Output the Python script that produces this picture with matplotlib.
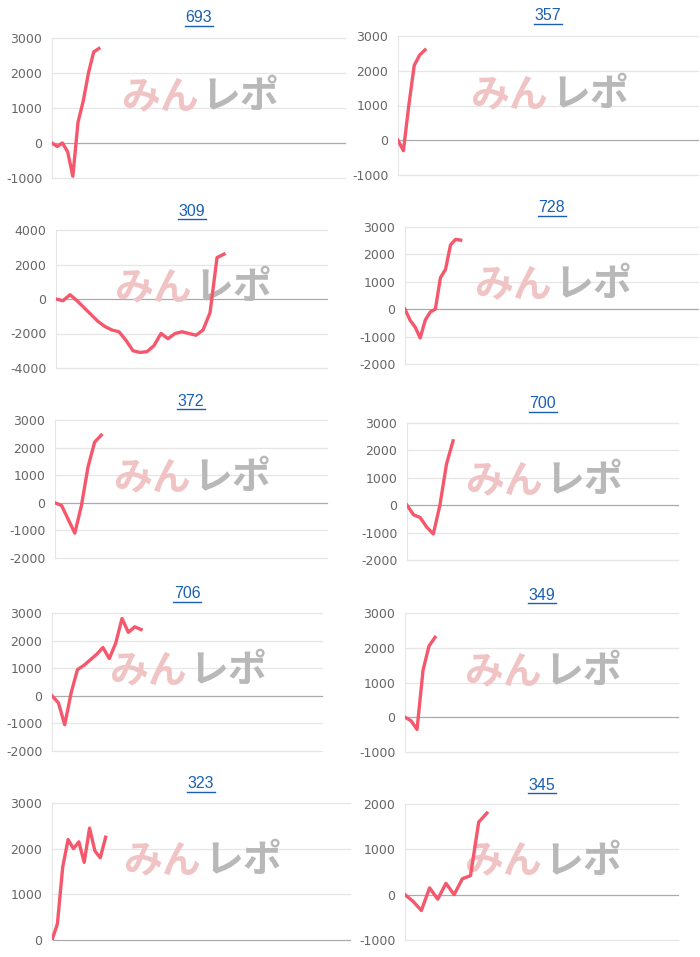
import matplotlib
matplotlib.use("Agg")
import matplotlib.pyplot as plt

plt.rcParams["axes.unicode_minus"] = False

W, H = 700, 957

titles = ["693", "357", "309", "728", "372", "700", "706", "349", "323", "345"]

s693 = [0, -100, 0, -250, -950, 600, 1200, 2000, 2600, 2700]
s357 = [0, -300, 1000, 2150, 2450, 2600]
s309 = [0, -100, 250, -100, -500, -900, -1300, -1600, -1800, -1900, -2400, -3000,
        -3100, -3050, -2700, -2000, -2300, -2000, -1900, -2000, -2100, -1800, -800, 2400, 2600]
s728 = [0, -400, -650, -1050, -400, -100, 0, 1150, 1450, 2350, 2550, 2520]
s372 = [0, -100, -600, -1100, -100, 1300, 2200, 2450]
s700 = [0, -350, -450, -800, -1050, 0, 1500, 2350]
s706 = [0, -250, -1050, 100, 950, 1100, 1300, 1500, 1750, 1350, 1900, 2800, 2300, 2500, 2400]
s349 = [0, -100, -350, 1350, 2050, 2300]
s323 = [0, 350, 1600, 2200, 2000, 2150, 1700, 2450, 1950, 1800, 2250]
s345 = [0, -150, -350, 150, -100, 250, 0, 350, 420, 1600, 1800]
series = [s693, s357, s309, s728, s372, s700, s706, s349, s323, s345]

yticks = [
    [-1000, 0, 1000, 2000, 3000],
    [-1000, 0, 1000, 2000, 3000],
    [-4000, -2000, 0, 2000, 4000],
    [-2000, -1000, 0, 1000, 2000, 3000],
    [-2000, -1000, 0, 1000, 2000, 3000],
    [-2000, -1000, 0, 1000, 2000, 3000],
    [-2000, -1000, 0, 1000, 2000, 3000],
    [-1000, 0, 1000, 2000, 3000],
    [0, 1000, 2000, 3000],
    [-1000, 0, 1000, 2000],
]

# pixel boxes: left, right, top, bottom, title y, fraction of width used by line
boxes = [
    (52, 345, 38, 178, 18, 0.16),
    (398, 698, 36, 175, 16, 0.09),
    (56, 327, 230, 368, 211, 0.62),
    (405, 698, 227, 364, 208, 0.19),
    (55, 327, 420, 558, 401, 0.17),
    (407, 678, 423, 560, 404, 0.17),
    (52, 322, 613, 751, 594, 0.33),
    (405, 678, 613, 752, 595, 0.11),
    (52, 350, 803, 940, 784, 0.18),
    (405, 678, 804, 940, 785, 0.30),
]

fig = plt.figure(figsize=(W / 100, H / 100), dpi=100)

for title, ys, ticks, (l, r, t, b, ty, frac) in zip(titles, series, yticks, boxes):
    ax = fig.add_axes([l / W, 1 - b / H, (r - l) / W, (b - t) / H])
    xs = list(range(len(ys)))
    ax.plot(xs, ys, color="#f5576c", lw=2.4, solid_joinstyle="round", zorder=3)
    ax.set_xlim(0, (len(ys) - 1) / frac)
    ax.set_ylim(ticks[0], ticks[-1])
    ax.set_yticks(ticks)
    ax.set_xticks([])
    ax.tick_params(axis="y", length=0, labelsize=9, labelcolor="#666666", pad=7)
    for yv in ticks:
        ax.axhline(yv, color="#aaaaaa" if yv == 0 else "#e6e6e6", lw=0.9, zorder=1,
                   clip_on=False)
    for side in ["top", "right", "bottom"]:
        ax.spines[side].set_visible(False)
    ax.spines["left"].set_color("#e6e6e6")
    # watermark
    ax.text(0.50, 0.58, "みん", transform=ax.transAxes, fontsize=28, weight="bold",
            color="#f0c4c4", family=["Noto Sans CJK JP"], ha="right",
            va="center", zorder=2)
    ax.text(0.51, 0.58, "レポ", transform=ax.transAxes, fontsize=28, weight="bold",
            color="#b8b8b8", family=["Noto Sans CJK JP"], ha="left",
            va="center", zorder=2)
    cx = (l + r) / 2 / W
    fig.text(cx, 1 - ty / H, title, ha="center", va="center", fontsize=11.5,
             color="#1a5fb4", family="Liberation Sans")
    fig.add_artist(plt.Line2D([cx - 0.02, cx + 0.02], [1 - (ty + 8) / H] * 2,
                              color="#1a5fb4", lw=1.0))

fig.savefig("out.png", dpi=100)
